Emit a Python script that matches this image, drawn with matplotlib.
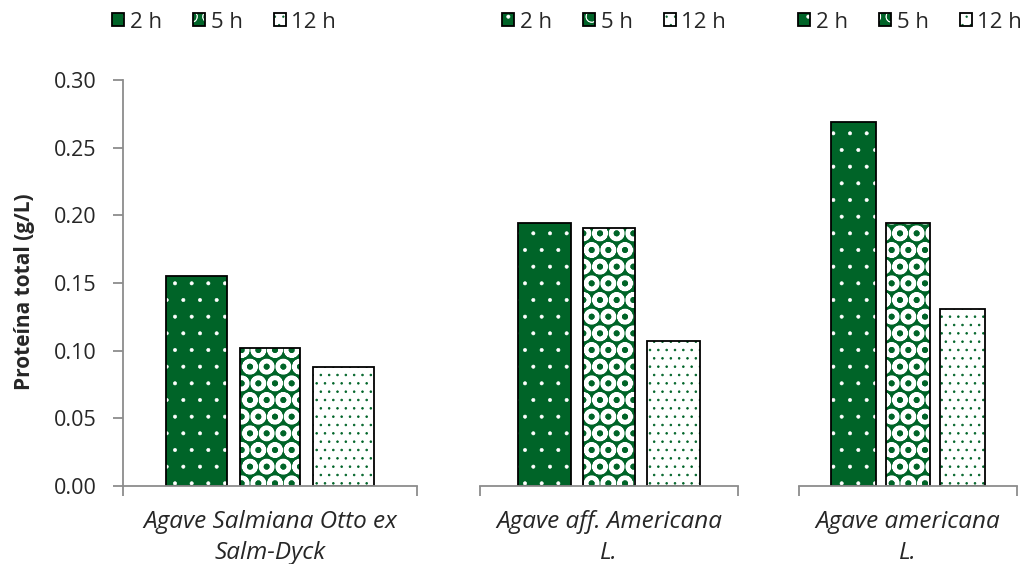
import matplotlib
matplotlib.use('Agg')
import matplotlib.pyplot as plt
from matplotlib.patches import Patch

# data
species = ['Agave Salmiana Otto ex\nSalm-Dyck', 'Agave aff. Americana\nL.', 'Agave americana\nL.']
times = ['2 h', '5 h', '12 h']
protein_2h = [0.155, 0.194, 0.269]
protein_5h = [0.102, 0.191, 0.194]
protein_12h = [0.088, 0.107, 0.131]
yticks = [0.00, 0.05, 0.10, 0.15, 0.20, 0.25, 0.30]

W, H = 1029, 564
green = '#006428'
grey = '#8c8c8c'
txt = '#262626'

plt.rcParams['font.family'] = ['Open Sans', 'DejaVu Sans']
plt.rcParams['hatch.linewidth'] = 0.4

# (facecolor, hatch colour, hatch, hatch linewidth) per time
styles = [
    (green, 'white', '.', 0.4),
    (green, 'white', 'O', 3.0),
    ('white', green, '..', 0.6),
]

# panel extents in pixels: left, right ; plot top / bottom
panels = [(123, 417), (480, 738), (799, 1017)]
top, bottom = 80, 486
legend_cx = [224, 614, 910]


def hatched(face, hcol, hatch, hlw, **kw):
    with plt.rc_context({'hatch.linewidth': hlw}):
        p = Patch(facecolor=face, edgecolor=hcol, hatch=hatch, lw=0, **kw)
    if hasattr(p, 'set_hatch_linewidth'):
        p.set_hatch_linewidth(hlw)
    return p


fig = plt.figure(figsize=(W / 100, H / 100), dpi=100)
series = [protein_2h, protein_5h, protein_12h]

for i, (l, r) in enumerate(panels):
    ax = fig.add_axes([l / W, 1 - bottom / H, (r - l) / W, (bottom - top) / H])
    for j, vals in enumerate(series):
        face, hcol, hatch, hlw = styles[j]
        with plt.rc_context({'hatch.linewidth': hlw}):
            bars = ax.bar(j + 1, vals[i], width=0.82, color=face, edgecolor=hcol,
                          hatch=hatch, lw=0)
        for b in bars:
            if hasattr(b, 'set_hatch_linewidth'):
                b.set_hatch_linewidth(hlw)
        ax.bar(j + 1, vals[i], width=0.82, fill=False, edgecolor='black', lw=1.3)
    ax.set_xlim(0, 4)
    ax.set_ylim(0, 0.3)
    for s in ['top', 'right']:
        ax.spines[s].set_visible(False)
    ax.spines['bottom'].set_color(grey)
    ax.spines['bottom'].set_linewidth(1.3)
    ax.set_xticks([0, 4])
    ax.set_xticklabels([])
    ax.tick_params(axis='x', which='major', direction='out', length=7, width=1.3, color=grey)
    ax.set_xticks([2], minor=True)
    ax.set_xticklabels([species[i]], minor=True, fontsize=17.5, style='italic',
                       color=txt, linespacing=1.4)
    ax.tick_params(axis='x', which='minor', length=0, pad=17)
    if i == 0:
        ax.spines['left'].set_color(grey)
        ax.spines['left'].set_linewidth(1.3)
        ax.set_yticks(yticks)
        ax.set_yticklabels([f'{v:.2f}' for v in yticks], fontsize=15.5, color=txt)
        ax.tick_params(axis='y', direction='out', length=7.5, width=1.3, color=grey, pad=11.5)
    else:
        ax.spines['left'].set_visible(False)
        ax.set_yticks([])

    handles = [(hatched(*st), Patch(fill=False, edgecolor='black', lw=1.3)) for st in styles]
    fig.legend(handles, times, loc='center', bbox_to_anchor=(legend_cx[i] / W, 1 - 22 / H),
               ncol=3, frameon=False, fontsize=16, handlelength=0.55, handleheight=0.55,
               handletextpad=0.25, columnspacing=1.4, borderpad=0, borderaxespad=0,
               labelcolor=txt)

fig.text(25 / W, 1 - 292 / H, 'Proteína total (g/L)', rotation=90, fontsize=15,
         fontweight='bold', ha='center', va='center', color=txt)

fig.savefig('out.png', dpi=100)
